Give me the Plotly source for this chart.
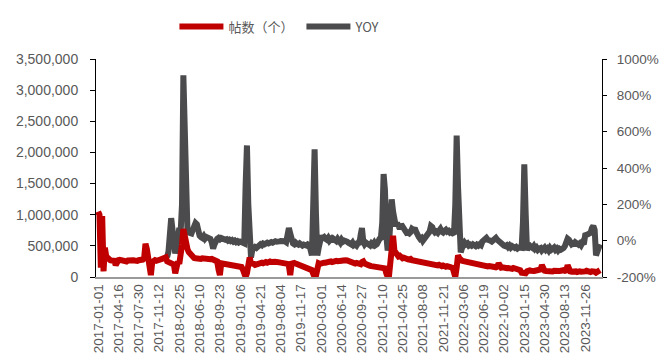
import pandas as pd
import plotly.graph_objects as go

# Weekly post counts (thousands), weeks starting 2017-01-01
posts_k = [
    1050, 1000, 150, 980, 90, 470, 330, 300,
    280, 270, 265, 275, 260, 190, 250, 270,
    275, 265, 255, 270, 260, 250, 265, 270,
    255, 260, 270, 265, 250, 260, 270, 275,
    265, 280, 300, 535, 450, 270, 250, 30,
    240, 265, 270, 260, 275, 270, 280, 290,
    300, 310, 315, 250, 240, 235, 245, 230,
    200, 60, 160, 250, 210, 320, 520, 770,
    620, 505, 450, 400, 370, 345, 320, 305,
    300, 295, 310, 300, 290, 300, 295, 305,
    300, 290, 295, 285, 290, 280, 275, 270,
    250, 120, 30, 220, 215, 220, 210, 205,
    215, 200, 195, 190, 200, 185, 180, 175,
    170, 165, 160, 120, 20, 0, 60, 200,
    315, 220, 200, 210, 195, 205, 215, 210,
    225, 230, 220, 235, 240, 230, 245, 250,
    240, 250, 255, 245, 240, 250, 235, 230,
    225, 215, 220, 200, 210, 180, 30, 215,
    230, 225, 215, 205, 200, 190, 185, 175,
    165, 160, 150, 140, 130, 115, 110, 50,
    0, 20, 190, 220, 210, 225, 220, 230,
    230, 240, 235, 245, 250, 240, 255, 250,
    260, 255, 265, 270, 260, 265, 275, 270,
    265, 255, 240, 230, 225, 220, 215, 225,
    210, 215, 205, 240, 250, 215, 200, 190,
    185, 180, 175, 170, 165, 160, 170, 160,
    155, 150, 145, 150, 140, 60, 5, 20,
    200, 450, 660, 420, 380, 350, 330, 340,
    315, 300, 310, 295, 300, 285, 280, 290,
    270, 265, 275, 260, 255, 250, 260, 245,
    240, 230, 225, 215, 220, 210, 205, 215,
    200, 195, 190, 185, 195, 180, 175, 185,
    170, 165, 175, 160, 165, 155, 150, 40,
    0, 150, 350, 300, 270, 260, 255, 250,
    240, 235, 230, 220, 225, 215, 210, 220,
    205, 200, 195, 190, 185, 190, 175, 180,
    170, 175, 165, 160, 170, 160, 155, 165,
    220, 170, 150, 155, 145, 150, 140, 145,
    135, 140, 130, 145, 135, 130, 140, 120,
    110, 70, 60, 55, 60, 90, 110, 105,
    100, 110, 95, 100, 105, 95, 100, 120,
    190, 110, 100, 95, 90, 100, 95, 85,
    90, 100, 95, 85, 90, 95, 100, 110,
    110, 100, 105, 190, 100, 90, 85, 95,
    85, 90, 80, 95, 90, 85, 80, 95,
    90, 100, 85, 75, 80, 90, 95, 85,
    70, 90, 100, 110,
]

# Weekly year-on-year change (%), from week 50 onward
yoy_pct = [
    -80, -90, -60, 20, 124, 60,
    -40, -70, -40, 30, 70, 50, 200, 910,
    500, 65, 60, 45, 38, 40, 60, 97,
    97, 90, 40, 27, 20, 15, 25, 11,
    20, 15, 11, 10, -10, -43, -20, 11,
    10, 15, 8, 15, 10, 12, 5, 8,
    0, 5, -2, 3, -5, 0, -8, -3,
    -10, -5, -11, -15, -15, 300, 524, 200,
    -60, -92, -50, -43, -35, -40, -30, -25,
    -20, -25, -16, -20, -15, -11, -15, -10,
    -8, -11, -5, -3, -6, 0, -4, -2,
    0, -5, -3, -8, 20, 70, 40, -11,
    -15, -20, -11, -18, -22, -15, -20, -27,
    -22, -25, -27, -20, -24, -50, -81, 200,
    503, 150, -81, -40, 10, 27, 15, 20,
    10, 5, 15, 0, 8, -5, 10, 5,
    -2, 10, 0, -11, 5, -5, 0, -8,
    -5, -11, -15, -20, -11, -25, -20, -27,
    -15, -22, 30, 70, -5, -20, -11, -15,
    -20, -27, -15, -22, -11, -25, -20, 10,
    10, 15, 100, 367, 280, 30, -54, -20,
    80, 227, 160, 97, 80, 97, 85, 65,
    90, 75, 60, 50, 43, 45, 40, 48,
    65, 60, 70, 50, 27, 20, 10, 15,
    0, 8, 20, 25, 30, 50, 81, 75,
    55, 45, 50, 43, 55, 65, 50, 45,
    54, 60, 50, 54, 45, 50, 40, 35,
    200, 578, 300, -30, -65, -40, -27, -11,
    -20, -15, -27, -22, -27, -20, -25, -30,
    -22, -27, -20, -25, -5, 0, 5, 15,
    5, -3, 0, -5, 3, 8, 15, 5,
    -3, -8, -11, -20, -27, -30, -25, -35,
    -27, -38, -30, -35, -40, -35, -43, -38,
    -43, -40, 100, 420, 150, -54, -30, -27,
    -35, -40, -30, -45, -38, -50, -43, -40,
    -54, -45, -38, -50, -43, -54, -40, -50,
    -45, -38, -50, -43, -54, -45, -50, -38,
    -40, -30, 0, 11, 5, -11, -20, -15,
    -27, -11, -20, -22, -15, -25, -11, -20,
    30, 38, 35, 40, 45, 70, 81, 60,
    -81, -60, -27, -20,
]

start = pd.Timestamp("2017-01-01")
post_dates = pd.date_range(start, periods=len(posts_k), freq="7D")
yoy_dates = pd.date_range(start + pd.Timedelta(weeks=50), periods=len(yoy_pct), freq="7D")
posts = [v * 1000 for v in posts_k]

# Date ticks every 105 days
x_ticks = pd.date_range("2017-01-01", "2023-12-31", freq="105D")
x_labels = [d.strftime("%Y-%m-%d") for d in x_ticks]

count_ticks = list(range(0, 3500001, 500000))
pct_ticks = list(range(-200, 1001, 200))
pct_labels = [f"{v}%" for v in pct_ticks]

RED = "#C00000"
GREY = "#4B4B4D"
TXT = "#595959"
TICK_FONT = dict(family="Liberation Sans, Arial, sans-serif", size=14, color=TXT)

fig = go.Figure()
fig.add_trace(go.Scatter(
    x=post_dates, y=posts, name="帖数（个）", yaxis="y2",
    mode="lines", line=dict(color=RED, width=6),
))
fig.add_trace(go.Scatter(
    x=yoy_dates, y=yoy_pct, name="YOY", yaxis="y",
    mode="lines", line=dict(color=GREY, width=6),
))

fig.update_layout(
    width=660, height=361,
    margin=dict(l=96, r=58, t=55, b=84),
    paper_bgcolor="white", plot_bgcolor="white",
    showlegend=True,
    legend=dict(
        orientation="h", x=0.155, y=1.149, xanchor="left", yanchor="middle",
        font=dict(family="Noto Sans CJK SC", size=13, color=TXT),
        itemwidth=44, entrywidth=68, entrywidthmode="pixels",
        traceorder="normal", bgcolor="rgba(0,0,0,0)",
    ),
    xaxis=dict(
        type="date", automargin=False,
        range=["2016-12-21", "2024-02-21"],
        tickmode="array", tickvals=x_ticks, ticktext=x_labels,
        tickangle=-90,
        tickfont=dict(family="Liberation Sans, Arial, sans-serif", size=13.5, color=TXT),
        showgrid=False, zeroline=False,
        showline=True, linecolor="#9a9a9a", linewidth=1.5,
        ticks="",
    ),
    yaxis=dict(
        side="right", range=[-200, 1000], automargin=False,
        tickmode="array", tickvals=pct_ticks, ticktext=pct_labels,
        tickfont=dict(family="Liberation Sans, Arial, sans-serif", size=13.5, color=TXT),
        ticklabelstandoff=7,
        showgrid=False, zeroline=False,
        showline=True, linecolor="black", linewidth=1,
        ticks="outside", ticklen=4, tickcolor="black",
    ),
    yaxis2=dict(
        overlaying="y", side="left", range=[0, 3500000], automargin=False,
        tickmode="array", tickvals=count_ticks, tickformat=",d",
        tickfont=TICK_FONT, ticklabelstandoff=9,
        showgrid=False, zeroline=False,
        showline=True, linecolor="black", linewidth=1,
        ticks="outside", ticklen=5, tickcolor="black",
    ),
)

fig.write_html("out.html")
